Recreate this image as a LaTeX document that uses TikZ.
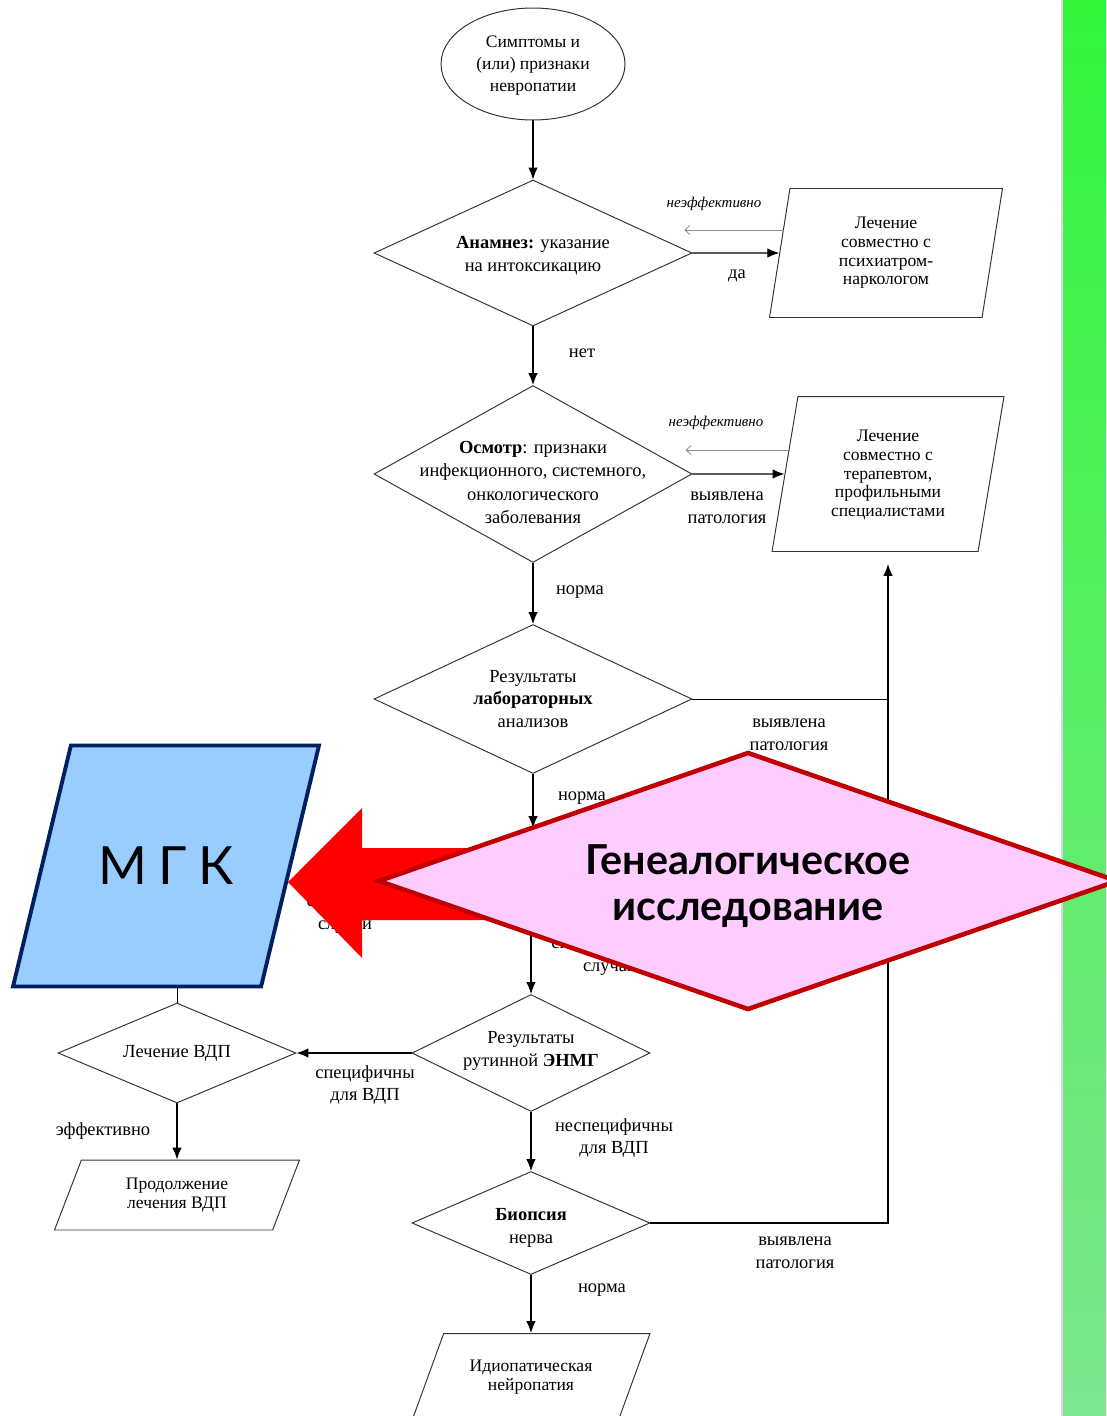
\documentclass[tikz,border=0pt]{standalone}
\usepackage{fontspec}
\setmainfont{Liberation Serif}
\newfontfamily\gothic{Lato}
\usetikzlibrary{shapes.geometric,arrows.meta}
\definecolor{mgkfill}{RGB}{153,204,255}
\definecolor{mgkline}{RGB}{0,32,96}
\definecolor{genfill}{RGB}{255,204,255}
\definecolor{genline}{RGB}{192,0,0}
\newcommand{\iobox}[1]{\rule{0pt}{#1}}
\tikzset{
	dec/.style={draw=black!80,line width=0.55pt,shape=diamond,inner sep=0pt},
	io/.style={draw=black!80,line width=0.55pt,trapezium,trapezium stretches body=true,inner sep=0pt},
	txt/.style={align=center,font=\fontsize{10.5}{13}\selectfont},
	iotxt/.style={align=center,font=\fontsize{10}{10.6}\selectfont},
	lbl/.style={align=center,font=\fontsize{10.5}{13}\selectfont},
	flow/.style={line width=0.65pt,-{Latex[length=2.4mm,width=1.9mm]}},
	back/.style={draw=black!45,line width=0.45pt,-{Straight Barb[length=1mm,width=1.8mm]}},
	ital/.style={font=\fontsize{8.5}{10}\itshape},
}

\begin{document}
\begin{tikzpicture}[x=0.02cm,y=-0.02cm]
	\useasboundingbox (0,0) rectangle (1106,1416);
	\shade[top color={rgb,255:red,51;green,245;blue,58},bottom color={rgb,255:red,126;green,230;blue,144}] (1063,0) rectangle (1106,1416);
	\draw[black!15,line width=0.6pt] (1062,0) -- (1062,1416);

	\node[draw=black!80,line width=0.55pt,ellipse,minimum width=3.68cm,minimum height=2.24cm,label={[iotxt,font=\fontsize{10}{12.5}\selectfont,yshift=-0.04cm]center:Симптомы и\\(или) признаки\\невропатии}] (S) at (533,64) {};
	\node[dec,minimum width=6.36cm,minimum height=2.92cm,label={[txt,yshift=-0.06cm]center:\textbf{Анамнез:} указание\\на интоксикацию}] (D1) at (533,253) {};
	\node[dec,minimum width=6.36cm,minimum height=3.54cm,label={[txt,yshift=-0.17cm,font=\fontsize{10.5}{13.2}\selectfont]center:\textbf{Осмотр}: признаки\\инфекционного, системного,\\онкологического\\заболевания}] (D2) at (533,474) {};
	\node[dec,minimum width=6.36cm,minimum height=2.98cm,label={[txt]center:Результаты\\\textbf{лабораторных}\\анализов}] (D3) at (533,699) {};
	\node[dec,minimum width=4.76cm,minimum height=2.34cm,label={[txt,yshift=0.04cm]center:Результаты\\рутинной \textbf{ЭНМГ}}] (E) at (531,1053) {};
	\node[dec,minimum width=4.76cm,minimum height=2.0cm,label={[txt]center:Лечение ВДП}] (V) at (177,1053) {};
	\node[dec,minimum width=4.76cm,minimum height=2.06cm,label={[txt,yshift=-0.09cm]center:\textbf{Биопсия}\\нерва}] (B) at (531,1223) {};

	\node[io,trapezium left angle=81,trapezium right angle=99,minimum width=4.66cm,label={[iotxt]center:Лечение\\совместно с\\психиатром-\\наркологом}] (P1) at (886,253) {\iobox{2.58cm}};
	\node[io,trapezium left angle=80.5,trapezium right angle=99.5,minimum width=4.64cm,label={[iotxt,yshift=-0.02cm]center:Лечение\\совместно с\\терапевтом,\\профильными\\специалистами}] (P2) at (888,474) {\iobox{3.1cm}};
	\node[io,trapezium left angle=69,trapezium right angle=111,minimum width=4.9cm,label={[iotxt]center:Продолжение\\лечения ВДП}] (PR) at (177,1195) {\iobox{1.4cm}};
	\node[io,trapezium left angle=70,trapezium right angle=110,minimum width=4.76cm,label={[iotxt]center:Идиопатическая\\нейропатия}] (I) at (531,1377) {\iobox{1.74cm}};

	\coordinate (G1) at (533,828);
	\coordinate (G2) at (531,936);

	\draw[flow] (S.south) -- (D1.north);
	\draw[flow] (D1.east) -- (P1.west);
	\draw[back] ([xshift=0.1cm,yshift=0.46cm]P1.west) -- ++(-100,0);
	\draw[flow] (D1.south) -- (D2.north);
	\draw[flow] (D2.east) -- (P2.west);
	\draw[back] ([xshift=0.1cm,yshift=0.48cm]P2.west) -- ++(-104,0);
	\draw[flow] (D2.south) -- (D3.north);
	\draw (D3.east) -- (D3.east -| P2.south);
	\draw[flow] (D3.south) -- (G1);
	\draw[flow] (G2) -- (E.north);
	\draw[flow] (E.west) -- (V.east);
	\draw[flow] (V.south) -- (PR.north);
	\draw[flow] (E.south) -- (B.north);
	\draw[flow,shorten >=0.24cm] (B.east) -| (P2.south);
	\draw[flow] (B.south) -- (I.north);

	\node[lbl] (l1) at (737,276) {да};
	\node[ital] (l2) at (714,204) {неэффективно};
	\node[lbl] (l3) at (582,353) {нет};
	\node[ital] (l4) at (716,423) {неэффективно};
	\node[lbl] (l5) at (727,508) {выявлена\\патология};
	\node[lbl] (l6) at (580,592) {норма};
	\node[lbl] (l7) at (789,735) {выявлена\\патология};
	\node[lbl] (l8) at (582,798) {норма};
	\node[lbl] (l9) at (345,914) {семейные\\случаи};
	\node[lbl] (l10) at (610,958) {спорадические\\случаи};
	\node[lbl] (l11) at (365,1085) {специфичны\\для ВДП};
	\node[lbl] (l12) at (103,1131) {эффективно};
	\node[lbl] (l13) at (614,1138) {неспецифичны\\для ВДП};
	\node[lbl] (l14) at (795,1253) {выявлена\\патология};
	\node[lbl] (l15) at (602,1290) {норма};

	\fill[red] (288,882) -- (362,808) -- (362,848) -- (490,848) -- (490,920) -- (362,920) -- (362,958) -- cycle;
	\node[draw=genline,fill=genfill,line width=2.6pt,diamond,inner sep=0pt,minimum width=14.8cm,minimum height=5.16cm,label={[align=center,font=\gothic\bfseries\fontsize{23.5}{26}\selectfont,yshift=-0.1cm]center:Генеалогическое\\исследование}] (GEN) at (748,881) {};
	\draw (V.north) -- (V.north |- 0,980);
	\node[draw=mgkline,fill=mgkfill,line width=2.2pt,trapezium,trapezium stretches body=true,trapezium left angle=76.5,trapezium right angle=103.5,inner sep=0pt,minimum width=6.12cm,label={[font=\gothic\fontsize{30}{36}\selectfont]center:\addfontfeature{LetterSpace=22}МГК}] (MGK) at (166,866) {\iobox{4.82cm}};
\end{tikzpicture}
\end{document}
